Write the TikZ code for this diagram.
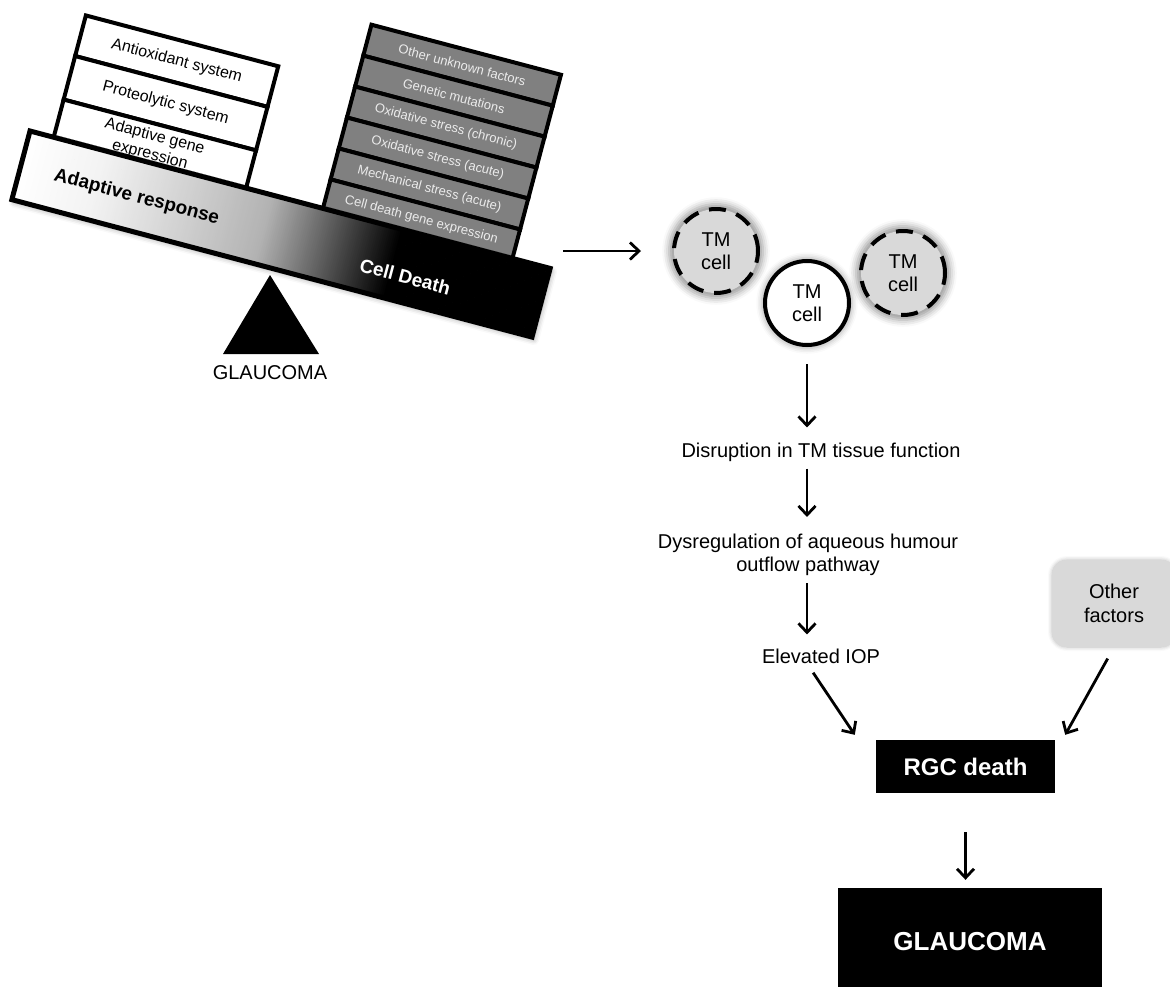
\documentclass[tikz,border=0pt]{standalone}
\usepackage{fontspec}
\setmainfont{Liberation Sans}
\usetikzlibrary{arrows.meta,shadows.blur}

\begin{document}
\begin{tikzpicture}[x=1pt,y=-1pt,
    arr/.style={line width=2.8pt,-{Straight Barb[length=9pt,width=17pt]}},
    whitebox/.style={draw,line width=4pt,fill=white,minimum width=199pt,inner sep=0pt,
      font=\fontsize{16}{19}\selectfont,align=center},
    greybox/.style={draw,line width=4pt,fill=black!50,text=black!8,minimum width=196pt,
      minimum height=32pt,inner sep=0pt,font=\fontsize{13}{15}\selectfont},
    txt/.style={inner sep=0pt,font=\fontsize{20}{23}\selectfont,align=center},
    tmcell/.style={circle,draw,minimum size=84pt,inner sep=0pt,line width=4pt,
      font=\fontsize{20}{23}\selectfont,align=center},
    deadcell/.style={tmcell,fill=black!15,dash pattern=on 17pt off 11pt,
      blur shadow={shadow xshift=0pt,shadow yshift=0pt,shadow scale=1.12,
        shadow blur radius=6pt,shadow opacity=40}},
    livecell/.style={tmcell,fill=white,
      blur shadow={shadow xshift=0pt,shadow yshift=0pt,shadow scale=1.08,
        shadow blur radius=5pt,shadow opacity=30}},
    blackbox/.style={fill=black,text=white,inner sep=0pt,font=\bfseries\fontsize{24}{28}\selectfont}]
  \useasboundingbox (0,0) rectangle (1170,986);

  % fulcrum
  \fill (270,275) -- (319,354) -- (223,354) -- cycle;
  \node[txt] (fulcrum) at (270,373) {GLAUCOMA};

  % the tilted balance
  \begin{scope}[shift={(30,131)},rotate=-14.8,transform shape]
    \node[whitebox,minimum height=42pt] (anti) at (124,-105) {Antioxidant system};
    \node[whitebox,minimum height=45pt] (prot) at (124,-61.5) {Proteolytic system};
    \node[whitebox,minimum height=54pt] (gene) at (124,-12) {};
    \node[font=\fontsize{16}{19}\selectfont,align=center] (genetxt) at (122,-17) {Adaptive gene\\expression};
    \foreach \lbl [count=\i] in {Other unknown factors,Genetic mutations,
        Oxidative stress (chronic),Oxidative stress (acute),
        Mechanical stress (acute),Cell death gene expression}
      \node[greybox] (risk\i) at (401,{-206+32*\i}) {\lbl};
    \path[blur shadow={shadow xshift=2pt,shadow yshift=-3pt,shadow blur radius=5pt,shadow opacity=35}]
      (0,0) rectangle (538,71);
    \foreach \k in {0,...,268}{
      \pgfmathsetmacro\lvl{min(100,(\k<40) ? \k*0.125 : ((\k<125) ? 5+25*(\k-40)/85 : 30+70*(\k-125)/67))}
      \fill[black!\lvl] ({2*\k},0) rectangle ({2*\k+2.6},71);
    }
    \draw[line width=5pt] (0,0) rectangle (538,71);
    \node[font=\bfseries\fontsize{19}{22}\selectfont] (adapt) at (120,37) {Adaptive response};
    \node[text=white,font=\bfseries\fontsize{19}{22}\selectfont] (death) at (400,45) {Cell Death};
  \end{scope}

  % cells and pathway
  \node[deadcell] (c1) at (716,251) {TM\\cell};
  \node[livecell] (c2) at (807,303) {TM\\cell};
  \node[deadcell] (c3) at (903,273) {TM\\cell};
  \node[txt] (disr) at (821,452) {Disruption in TM tissue function};
  \node[txt] (dysr) at (808,555) {Dysregulation of aqueous humour\\outflow pathway};
  \node[txt] (iop) at (821,656) {Elevated IOP};
  \node[txt,font=\fontsize{20}{24}\selectfont,fill=black!15,rounded corners=15pt,
    minimum width=124pt,minimum height=87pt,
    blur shadow={shadow xshift=0pt,shadow yshift=0pt,shadow blur radius=4pt,shadow opacity=30}]
    (other) at (1114,603.5) {Other\\factors};
  \node[blackbox,minimum width=179pt,minimum height=53pt] (rgc) at (965.5,766.5) {RGC death};
  \node[blackbox,minimum width=264pt,minimum height=108pt,font=\bfseries\fontsize{26}{30}\selectfont]
    (glau) at (970,942) {GLAUCOMA};

  \coordinate (beamtip) at (563,251);
  \draw[arr] (beamtip) -- ([xshift=-31pt]c1.west);
  \draw[arr,shorten <=17pt,shorten >=15pt] (c2.south) -- (c2.south |- disr.north);
  \draw[arr,shorten <=7pt,shorten >=17pt] (disr.south -| c2.south) -- (c2.south |- dysr.north);
  \draw[arr,shorten <=7pt,shorten >=14pt] (dysr.south -| c2.south) -- (c2.south |- iop.north);
  \draw[arr,shorten <=11pt] (iop.south -| c2.south) -- ([xshift=-21pt,yshift=5pt]rgc.north west);
  \draw[arr,shorten <=13pt] (other.south) -- ([xshift=10pt,yshift=5pt]rgc.north east);
  \draw[arr,shorten <=39pt,shorten >=8pt] (rgc.south) -- (rgc.south |- glau.north);
\end{tikzpicture}
\end{document}
